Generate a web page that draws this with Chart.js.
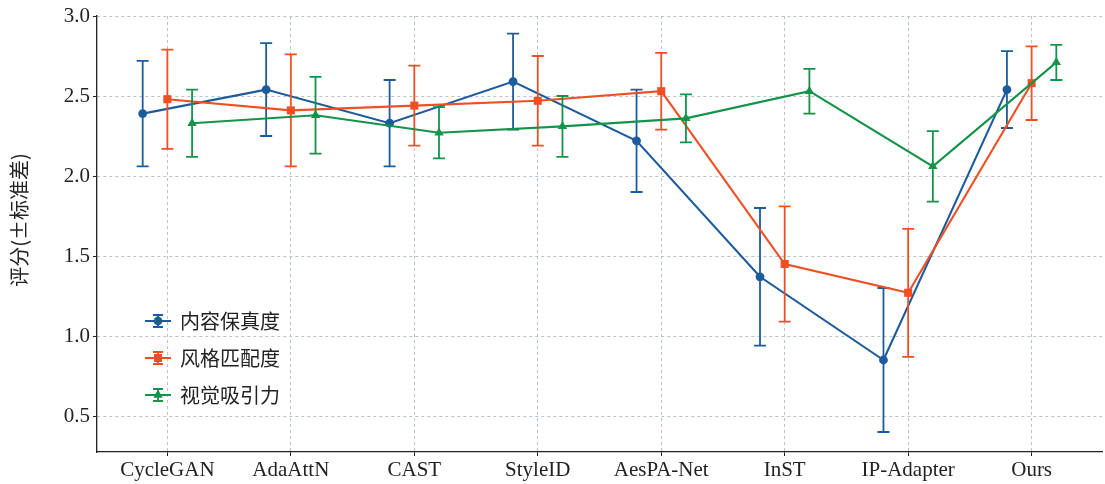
<!DOCTYPE html>
<html>
<head>
<meta charset="utf-8">
<script src="https://cdn.jsdelivr.net/npm/chart.js@4.4.1/dist/chart.umd.min.js"></script>
<style>
  html, body { margin: 0; padding: 0; background: #ffffff; }
  #wrap { width: 1105px; height: 484px; }
</style>
</head>
<body>
<div id="wrap"><canvas id="c" width="1105" height="484"></canvas></div>
<script>
const categories = ["CycleGAN", "AdaAttN", "CAST", "StyleID", "AesPA-Net", "InST", "IP-Adapter", "Ours"];
const seriesNames = ["内容保真度", "风格匹配度", "视觉吸引力"];
const fidelityMean = [2.39, 2.54, 2.33, 2.59, 2.22, 1.37, 0.85, 2.54];
const fidelityStd  = [0.33, 0.29, 0.27, 0.30, 0.32, 0.43, 0.45, 0.24];
const styleMean    = [2.48, 2.41, 2.44, 2.47, 2.53, 1.45, 1.27, 2.58];
const styleStd     = [0.31, 0.35, 0.25, 0.28, 0.24, 0.36, 0.40, 0.23];
const appealMean   = [2.33, 2.38, 2.27, 2.31, 2.36, 2.53, 2.06, 2.71];
const appealStd    = [0.21, 0.24, 0.16, 0.19, 0.15, 0.14, 0.22, 0.11];
const yTickValues  = [0.5, 1.0, 1.5, 2.0, 2.5, 3.0];
const yTickLabels  = ["0.5", "1.0", "1.5", "2.0", "2.5", "3.0"];
const yAxisTitle   = "评分(±标准差)";

const COLORS = ["#1c5b9c", "#f04f23", "#16934a"];
const STYLES = ["circle", "rect", "triangle"];
const RADII  = [4.4, 5.7, 5.4];
const OFFSETS = [-0.2, 0, 0.2];
const SERIF = "'Liberation Serif', 'Times New Roman', serif";
const CJK = "'Noto Sans CJK SC', 'Noto Sans', sans-serif";

const means = [fidelityMean, styleMean, appealMean];
const stds = [fidelityStd, styleStd, appealStd];

const datasets = means.map((m, s) => ({
  label: seriesNames[s],
  data: m.map((v, i) => ({ x: i + OFFSETS[s], y: v })),
  errors: stds[s],
  borderColor: COLORS[s],
  backgroundColor: COLORS[s],
  pointBackgroundColor: COLORS[s],
  pointBorderColor: COLORS[s],
  pointBorderWidth: 0,
  pointStyle: STYLES[s],
  pointRadius: RADII[s],
  pointHoverRadius: RADII[s],
  borderWidth: 2.1,
  tension: 0,
  fill: false,
  order: 3 - s
}));

const errorBarPlugin = {
  id: "errorBars",
  beforeDatasetDraw(chart, args) {
    const ds = chart.data.datasets[args.index];
    const xs = chart.scales.x, ys = chart.scales.y;
    const ctx = chart.ctx;
    ctx.save();
    ctx.strokeStyle = ds.borderColor;
    ctx.lineWidth = 1.8;
    ctx.setLineDash([]);
    ds.data.forEach((p, i) => {
      const e = ds.errors[i];
      const px = xs.getPixelForValue(p.x);
      const yt = ys.getPixelForValue(p.y + e);
      const yb = ys.getPixelForValue(p.y - e);
      ctx.beginPath();
      ctx.moveTo(px, yt); ctx.lineTo(px, yb);
      ctx.moveTo(px - 6, yt); ctx.lineTo(px + 6, yt);
      ctx.moveTo(px - 6, yb); ctx.lineTo(px + 6, yb);
      ctx.stroke();
    });
    ctx.restore();
  }
};

function drawMarker(ctx, style, x, y, r) {
  ctx.beginPath();
  if (style === "circle") {
    ctx.arc(x, y, r, 0, Math.PI * 2);
  } else if (style === "rect") {
    const h = r * Math.SQRT1_2;
    ctx.rect(x - h, y - h, 2 * h, 2 * h);
  } else {
    let a = 0;
    ctx.moveTo(x + Math.sin(a) * r, y - Math.cos(a) * r);
    a += 2 * Math.PI / 3;
    ctx.lineTo(x + Math.sin(a) * r, y - Math.cos(a) * r);
    a += 2 * Math.PI / 3;
    ctx.lineTo(x + Math.sin(a) * r, y - Math.cos(a) * r);
    ctx.closePath();
  }
  ctx.fill();
}

const legendPlugin = {
  id: "insideLegend",
  afterDraw(chart) {
    const ctx = chart.ctx;
    const area = chart.chartArea;
    const iconX = area.left + 61;
    const textX = area.left + 83;
    const y0 = area.top + 305;
    const step = 37;
    ctx.save();
    chart.data.datasets.forEach((ds, s) => {
      const cy = y0 + s * step;
      ctx.strokeStyle = ds.borderColor;
      ctx.fillStyle = ds.borderColor;
      ctx.lineWidth = 2;
      ctx.beginPath();
      ctx.moveTo(iconX - 13, cy); ctx.lineTo(iconX + 13, cy);
      ctx.stroke();
      ctx.lineWidth = 1.8;
      ctx.beginPath();
      ctx.moveTo(iconX, cy - 6); ctx.lineTo(iconX, cy + 6);
      ctx.moveTo(iconX - 5, cy - 6); ctx.lineTo(iconX + 5, cy - 6);
      ctx.moveTo(iconX - 5, cy + 6); ctx.lineTo(iconX + 5, cy + 6);
      ctx.stroke();
      drawMarker(ctx, ds.pointStyle, iconX, cy, ds.pointRadius);
      ctx.fillStyle = "#222222";
      ctx.font = "20px " + CJK;
      ctx.textBaseline = "middle";
      ctx.textAlign = "left";
      ctx.fillText(ds.label, textX, cy);
    });
    // y-axis title
    ctx.translate(19, 220);
    ctx.rotate(-Math.PI / 2);
    ctx.fillStyle = "#222222";
    ctx.font = "20px " + CJK;
    ctx.textAlign = "center";
    ctx.textBaseline = "middle";
    ctx.fillText(yAxisTitle, 0, 0);
    ctx.restore();
  }
};

const gridColor = "#b9c3cc";

new Chart(document.getElementById("c"), {
  type: "line",
  data: { datasets },
  plugins: [errorBarPlugin, legendPlugin],
  options: {
    responsive: false,
    animation: false,
    events: [],
    layout: { autoPadding: false, padding: { top: 16, right: 3, left: 0, bottom: 0 } },
    plugins: { legend: { display: false }, tooltip: { enabled: false } },
    scales: {
      x: {
        type: "linear",
        min: -0.57,
        max: 7.57,
        afterBuildTicks(scale) { scale.ticks = categories.map((_, i) => ({ value: i })); },
        afterFit(scale) { scale.height = 32; },
        ticks: {
          autoSkip: false, maxRotation: 0, minRotation: 0, padding: 2,
          color: "#222222",
          font: { family: SERIF, size: 21 },
          callback: (v) => categories[v]
        },
        grid: { color: gridColor, lineWidth: 1, tickLength: 4, tickColor: "#222222", tickWidth: 1, drawTicks: true },
        border: { display: true, color: "#222222", width: 1.3, dash: [3, 3] }
      },
      y: {
        type: "linear",
        min: 0.275,
        max: 3.0,
        afterBuildTicks(scale) { scale.ticks = yTickValues.map(v => ({ value: v })); },
        afterFit(scale) { scale.width = 97; },
        ticks: {
          padding: 3,
          color: "#222222",
          font: { family: SERIF, size: 21 },
          callback: (v) => yTickLabels[yTickValues.indexOf(v)]
        },
        grid: { color: gridColor, lineWidth: 1, tickLength: 4, tickColor: "#222222", tickWidth: 1, drawTicks: true },
        border: { display: true, color: "#222222", width: 1.3, dash: [3, 3] },
        title: { display: false, text: yAxisTitle }
      }
    }
  }
});
</script>
</body>
</html>
